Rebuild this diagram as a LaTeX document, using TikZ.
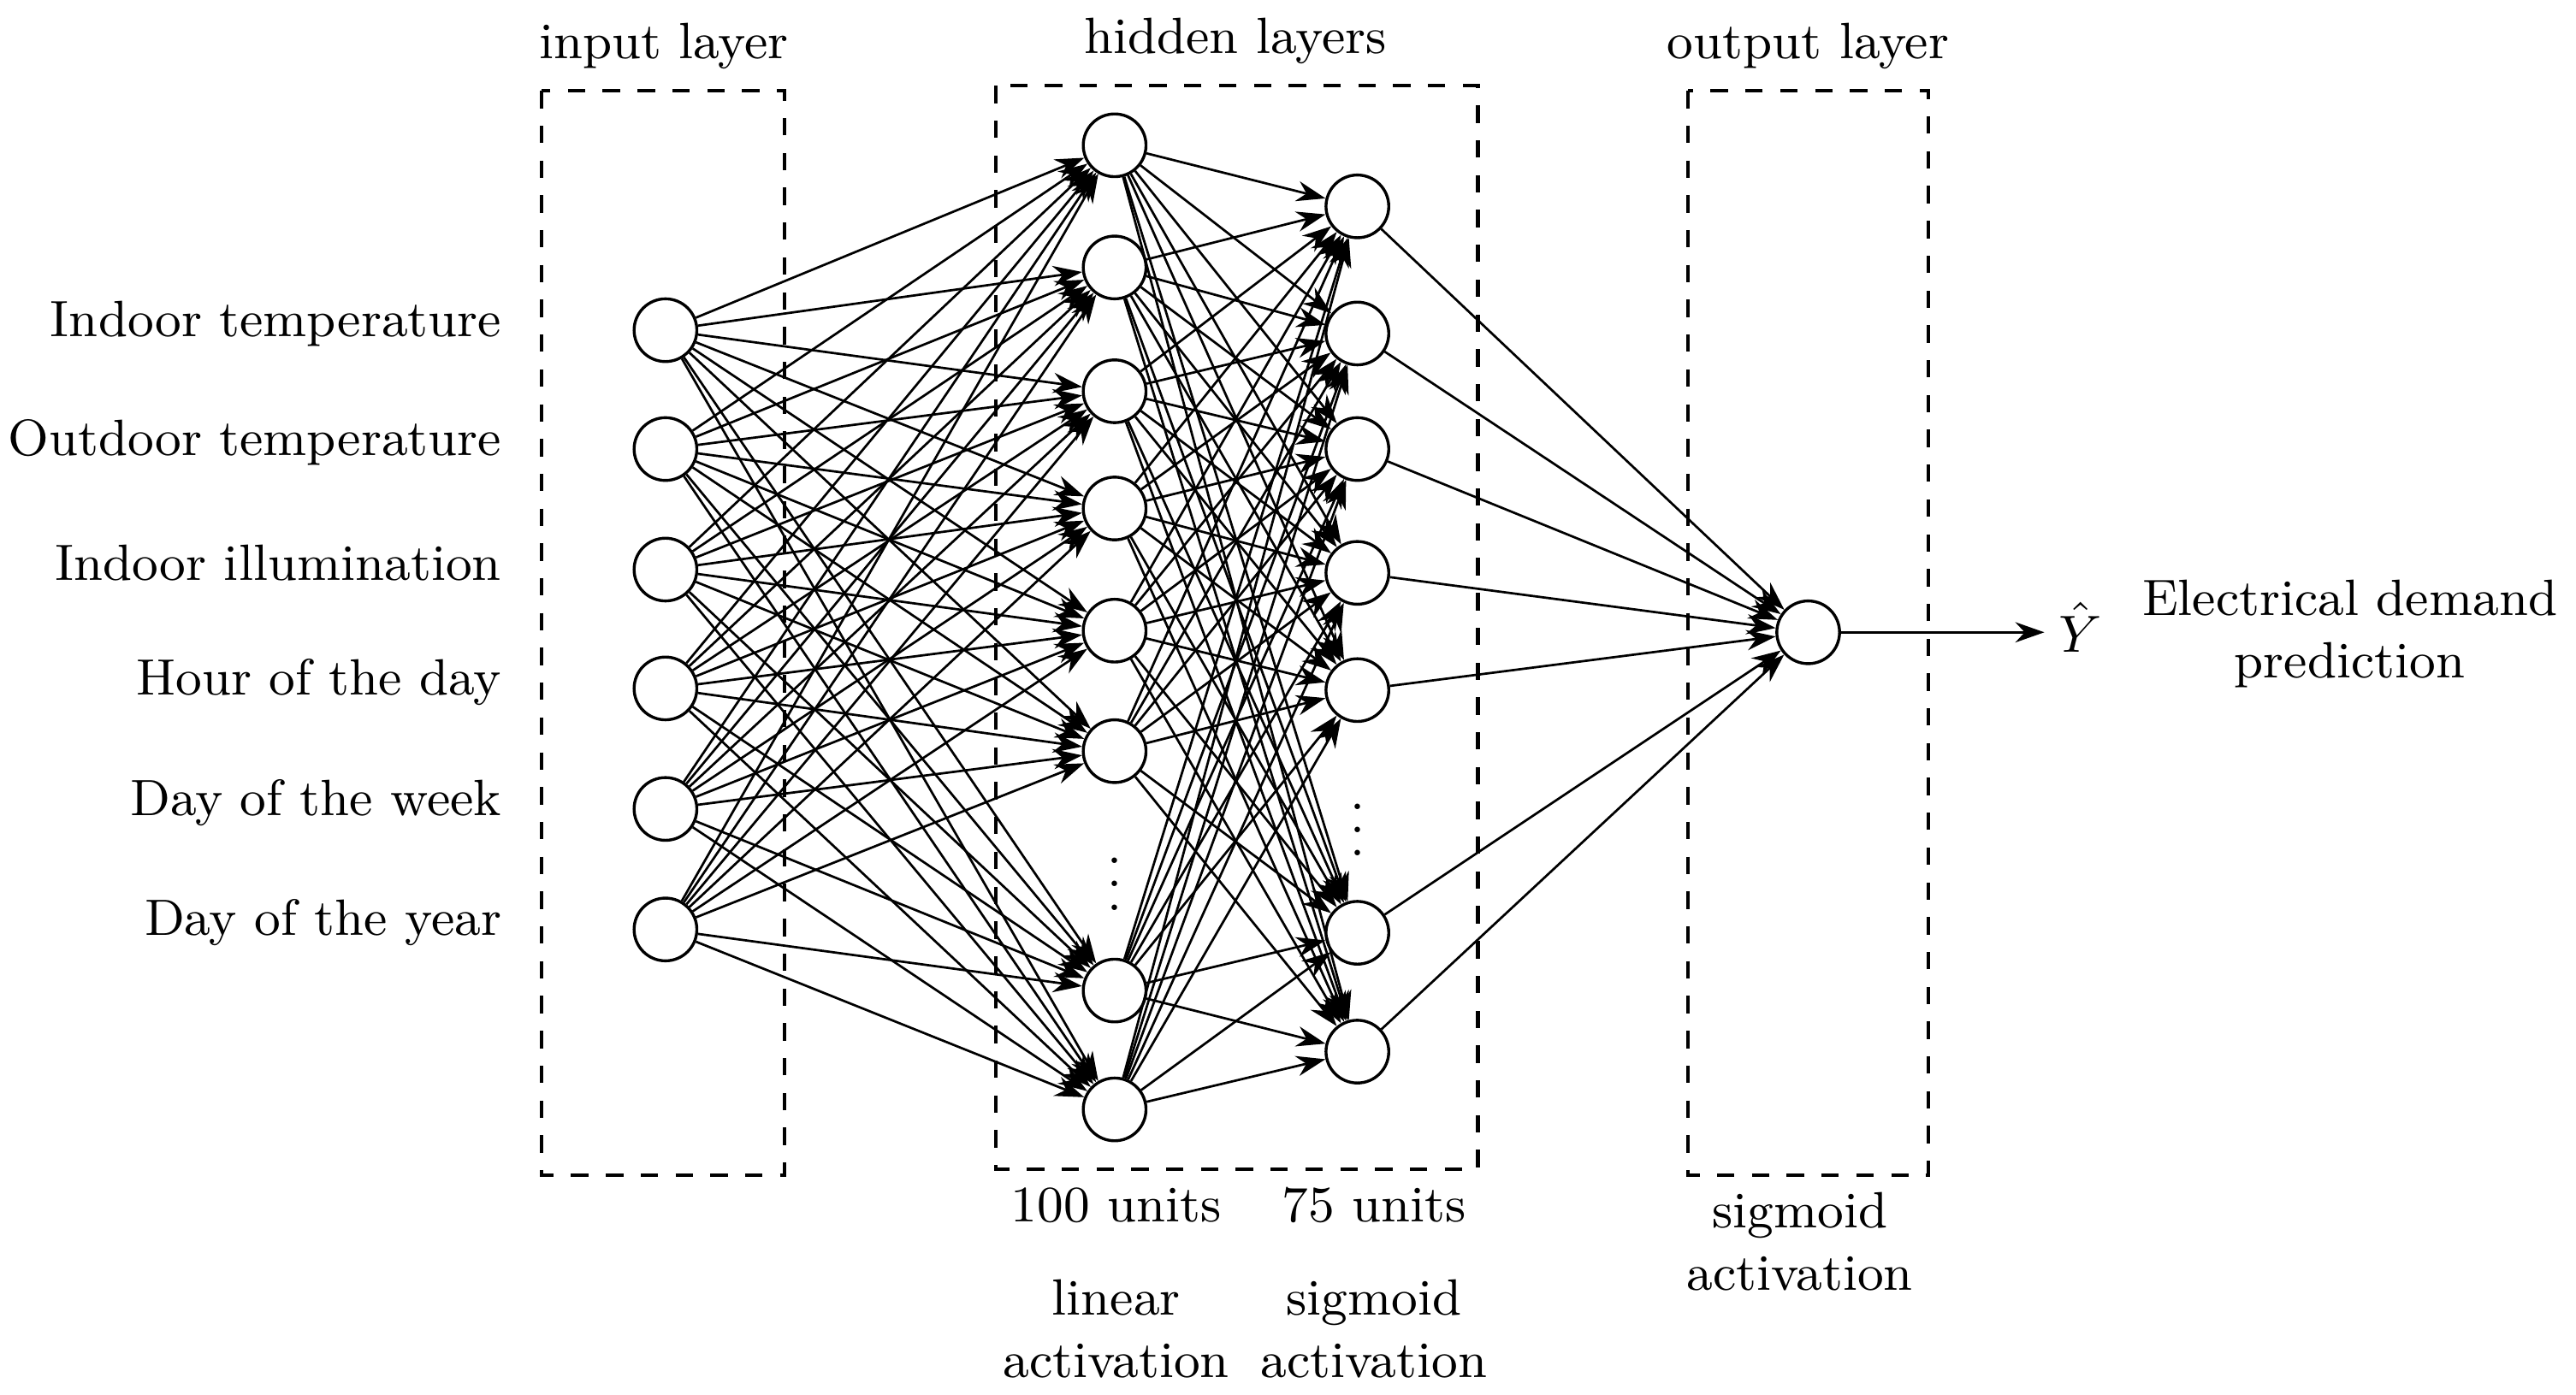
\documentclass[tikz,border=0pt]{standalone}
\usetikzlibrary{arrows.meta,positioning}
\begin{document}
\begin{tikzpicture}[x=1cm,y=-1cm,font=\fontsize{8.8}{10.8}\selectfont,
  neuron/.style={circle,draw,line width=0.5pt,minimum size=0.38cm,inner sep=0pt},
  conn/.style={-{Stealth[length=5pt,width=3.5pt]},line width=0.4pt},
  layerbox/.style={draw,dashed,line width=0.6pt},
  lbl/.style={align=center}]
  \useasboundingbox (0,0) rectangle (15.6,8.45);
  % input layer
  \foreach \i/\y/\t in {1/2.00/Indoor temperature,2/2.72/Outdoor temperature,3/3.45/Indoor illumination,4/4.17/Hour of the day,5/4.90/Day of the week,6/5.63/Day of the year}{
    \node[neuron] (in\i) at (4.03,\y) {};
    \node[anchor=east] (txt\i) at (3.16,\y-0.04) {\t};
  }
  % hidden layer 1
  \foreach \i/\y in {1/0.88,2/1.62,3/2.37,4/3.08,5/3.82,6/4.55,7/6.00,8/6.72}
    \node[neuron] (ha\i) at (6.75,\y) {};
  \node (dotsa) at (6.75,5.25) {$\vdots$};
  % hidden layer 2
  \foreach \i/\y in {1/1.25,2/2.02,3/2.72,4/3.47,5/4.18,6/5.65,7/6.37}
    \node[neuron] (hb\i) at (8.22,\y) {};
  \node (dotsb) at (8.22,4.92) {$\vdots$};
  % output
  \node[neuron] (out) at (10.95,3.83) {};
  \coordinate (yend) at (12.38,3.83);
  \node (yhat) at (12.6,3.80) {$\hat{Y}$};
  \node[lbl] (pred) at (14.23,3.84) {Electrical demand\\prediction};
  % connections
  \foreach \i in {1,...,6}
    \foreach \j in {1,...,8}
      \draw[conn] (in\i) -- (ha\j);
  \foreach \i in {1,...,8}
    \foreach \j in {1,...,7}
      \draw[conn] (ha\i) -- (hb\j);
  \foreach \j in {1,...,7}
    \draw[conn] (hb\j) -- (out);
  \draw[conn] (out) -- (yend);
  % boxes
  \draw[layerbox] (3.28,0.55) rectangle (4.75,7.12);
  \draw[layerbox] (6.03,0.52) rectangle (8.95,7.08);
  \draw[layerbox] (10.22,0.55) rectangle (11.68,7.12);
  \node (inlbl) at (4.02,0.28) {input layer};
  \node (hidlbl) at (7.48,0.25) {hidden layers};
  \node (outlbl) at (10.95,0.28) {output layer};
  \node (unitsa) at (6.76,7.30) {100 units};
  \node (unitsb) at (8.32,7.30) {75 units};
  \node[lbl] (acta) at (6.76,8.05) {linear\\activation};
  \node[lbl] (actb) at (8.32,8.05) {sigmoid\\activation};
  \node[lbl] (actc) at (10.90,7.52) {sigmoid\\activation};
\end{tikzpicture}
\end{document}
